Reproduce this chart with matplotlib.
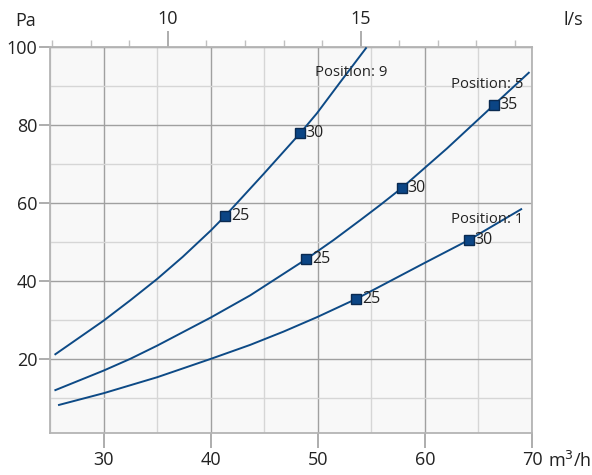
import matplotlib
matplotlib.use("Agg")
import matplotlib.pyplot as plt
from matplotlib.ticker import MultipleLocator

plt.rcParams["font.family"] = ["Open Sans", "DejaVu Sans"]

# ---------------- data ----------------
# curve points (flow in m3/h, pressure in Pa)
pos9_x = [25.5, 30, 32.48, 35, 37.4, 40, 41.36, 44.93, 48.36, 49.92, 52.1, 54.5]
pos9_y = [21.2, 29.8, 35.0, 40.5, 46.2, 52.9, 56.7, 67.4, 77.9, 83.0, 91.0, 99.7]
pos5_x = [25.5, 30, 32.48, 35, 40, 43.69, 48.93, 51.48, 53.97, 55.84, 57.87, 62.07, 66.43, 69.7]
pos5_y = [12.0, 17.0, 20.0, 23.4, 30.6, 36.3, 45.6, 50.5, 55.6, 59.5, 63.9, 74.0, 85.1, 93.4]
pos1_x = [25.84, 30, 35, 40, 43.69, 46.8, 49.92, 53.6, 59.89, 64.1, 68.99]
pos1_y = [8.2, 11.2, 15.3, 20.0, 23.6, 27.0, 30.7, 35.4, 44.5, 50.5, 58.4]

# marked operating points and their labels
pos9_mx = [41.36, 48.36]
pos9_my = [56.7, 77.9]
pos9_ml = ["25", "30"]
pos5_mx = [48.93, 57.87, 66.43]
pos5_my = [45.6, 63.9, 85.1]
pos5_ml = ["25", "30", "35"]
pos1_mx = [53.6, 64.1]
pos1_my = [35.4, 50.5]
pos1_ml = ["25", "30"]

curve_names = ["Position: 9", "Position: 5", "Position: 1"]
x_ticks = [30, 40, 50, 60, 70]
y_ticks = [20, 40, 60, 80, 100]
top_ticks = [10, 15]
# --------------------------------------------------------------

LINE = "#0d4a86"
MARK = "#0b4585"
TXT = "#222222"
FRAME = "#b4b4b4"

fig = plt.figure(figsize=(5.92, 4.75), dpi=100)
ax = fig.add_axes([50 / 592, 1 - 433 / 475, 482 / 592, 386 / 475])
ax.set_facecolor("#f8f8f8")
ax.set_xlim(25, 70)
ax.set_ylim(1, 100)

ax.xaxis.set_minor_locator(MultipleLocator(5))
ax.yaxis.set_minor_locator(MultipleLocator(10))
ax.set_xticks(x_ticks)
ax.set_yticks(y_ticks)
ax.grid(which="major", color="#a0a0a0", lw=1.0)
ax.grid(which="minor", color="#d6d6d6", lw=1.0)
ax.set_axisbelow(True)

for s in ax.spines.values():
    s.set_color(FRAME)
    s.set_linewidth(1.3)

ax.tick_params(axis="x", which="major", direction="out", length=11, width=1.2,
               color="#a0a0a0", labelsize=13, labelcolor=TXT, pad=2)
ax.tick_params(axis="x", which="minor", length=0)
ax.tick_params(axis="y", which="major", direction="out", length=8, width=1.2,
               color="#a0a0a0", labelsize=13, labelcolor=TXT, pad=1)
ax.tick_params(axis="y", which="minor", length=0)

# top axis in l/s
top = ax.secondary_xaxis("top", functions=(lambda q: q / 3.6, lambda q: q * 3.6))
top.set_xticks(top_ticks)
top.xaxis.set_minor_locator(MultipleLocator(1))
top.tick_params(which="major", direction="out", length=11.5, width=1.2,
                color="#a0a0a0", labelsize=13, labelcolor=TXT, pad=2)
top.tick_params(which="minor", direction="out", length=5, width=1.0,
                color="#c0c0c0")
top.spines["top"].set_color(FRAME)

curves = [
    (pos9_x, pos9_y, pos9_mx, pos9_my, pos9_ml),
    (pos5_x, pos5_y, pos5_mx, pos5_my, pos5_ml),
    (pos1_x, pos1_y, pos1_mx, pos1_my, pos1_ml),
]
for cx, cy, mx, my, ml in curves:
    ax.plot(cx, cy, color=LINE, lw=1.4, clip_on=False, zorder=3)
    ax.plot(mx, my, ls="none", marker="s", ms=7.5, mfc=MARK, mec="#0a2a50",
            mew=1.0, zorder=4)
    for x, y, t in zip(mx, my, ml):
        ax.annotate(t, (x, y), xytext=(4, 0), textcoords="offset points",
                    ha="left", va="center", fontsize=11.5, color=TXT, zorder=5)

label_pos = [(49.77, 93.5), (62.45, 90.26), (62.45, 55.8)]
for name, (lx, ly) in zip(curve_names, label_pos):
    ax.text(lx, ly, name, ha="left", va="center", fontsize=10.7, color=TXT, zorder=5)

fig.text(25.5 / 592, 1 - 21 / 475, "Pa", ha="center", va="center", fontsize=13, color=TXT)
fig.text(573 / 592, 1 - 20 / 475, "l/s", ha="center", va="center", fontsize=13, color=TXT)
fig.text(548 / 592, 1 - 461 / 475, "m$^3$/h", ha="left", va="center", fontsize=13, color=TXT)

fig.savefig("out.png", dpi=100)
